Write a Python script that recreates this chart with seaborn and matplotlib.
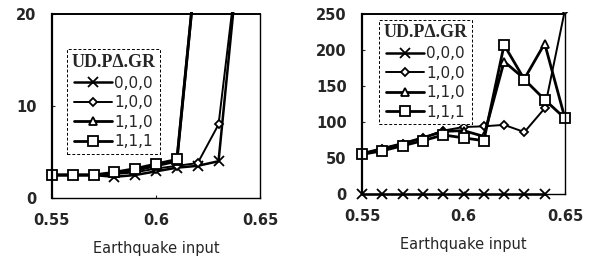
import numpy as np
import pandas as pd
import matplotlib
matplotlib.use("Agg")
import matplotlib.pyplot as plt
from matplotlib.patches import Rectangle
import seaborn as sns

# earthquake input levels
x_vals = [0.55, 0.56, 0.57, 0.58, 0.59, 0.60, 0.61, 0.62, 0.63, 0.64, 0.65]
series_names = ["0,0,0", "1,0,0", "1,1,0", "1,1,1"]

# left panel (values beyond 20 run off the top)
left_000 = [2.5, 2.5, 2.5, 2.3, 2.5, 2.9, 3.3, 3.5, 4.0, 27.0, np.nan]
left_100 = [2.5, 2.5, 2.5, 2.6, 2.8, 3.2, 3.5, 3.8, 8.0, 27.0, np.nan]
left_110 = [2.5, 2.5, 2.5, 2.7, 3.0, 3.5, 4.0, 27.0, np.nan, np.nan, np.nan]
left_111 = [2.5, 2.5, 2.5, 2.8, 3.2, 3.7, 4.2, 27.0, np.nan, np.nan, np.nan]

# right panel
right_000 = [0, 0, 0, 0, 0, 0, 0, 0, 0, 0, np.nan]
right_100 = [56, 63, 70, 78, 88, 93, 94, 96, 86, 119, 256]
right_110 = [56, 63, 70, 78, 87, 88, 80, 184, 160, 209, 105]
right_111 = [55, 60, 67, 74, 82, 78, 74, 207, 159, 131, 105]

markers = {"0,0,0": "x", "1,0,0": "D", "1,1,0": "^", "1,1,1": "s"}
msizes = {"0,0,0": 7, "1,0,0": 4.5, "1,1,0": 6, "1,1,1": 7.5}
lwidths = {"0,0,0": 1.8, "1,0,0": 1.4, "1,1,0": 2.0, "1,1,1": 2.0}


def to_long(cols):
    recs = []
    for name, vals in zip(series_names, cols):
        for x, v in zip(x_vals, vals):
            recs.append({"Earthquake input": x, "value": v, "series": name})
    return pd.DataFrame(recs)


sns.set_style("ticks")
plt.rcParams["font.family"] = ["DejaVu Sans"]

fig = plt.figure(figsize=(5.9, 2.59), dpi=100)
ax1 = fig.add_axes([0.088, 0.2355, 0.353, 0.71])
ax2 = fig.add_axes([0.6136, 0.251, 0.344, 0.695])

panels = [
    (ax1, to_long([left_000, left_100, left_110, left_111]), (0, 20), [0, 10, 20], (0.035, 0.85)),
    (ax2, to_long([right_000, right_100, right_110, right_111]), (0, 250), [0, 50, 100, 150, 200, 250], (0.045, 1.01)),
]

for ax, df, ylim, yticks, leg_pos in panels:
    for name in series_names:
        sub = df[df["series"] == name].dropna()
        sns.lineplot(data=sub, x="Earthquake input", y="value", marker=markers[name],
                     markersize=msizes[name], color="black", linewidth=lwidths[name],
                     markerfacecolor="white", markeredgecolor="black",
                     markeredgewidth=1.3, errorbar=None, label=name, ax=ax)
    for line in ax.get_lines():
        line.set_clip_path(Rectangle((-0.06, -0.08), 1.12, 1.09, transform=ax.transAxes))

    ax.set_xlim(0.55, 0.65)
    ax.set_ylim(*ylim)
    ax.set_xticks([0.55, 0.6, 0.65])
    ax.set_xticklabels(["0.55", "0.6", "0.65"])
    ax.set_yticks(yticks)
    ax.set_ylabel("")
    ax.set_xlabel("Earthquake input", fontsize=10.5, labelpad=9)
    ax.tick_params(direction="in", length=2, width=0.8, pad=11, labelsize=10.5)
    for t in ax.get_xticklabels() + ax.get_yticklabels():
        t.set_fontweight("bold")
    for sp in ax.spines.values():
        sp.set_visible(True)
        sp.set_color("black")
        sp.set_linewidth(1.0)
    ax.spines["left"].set_linewidth(1.6)
    ax.spines["top"].set_linewidth(1.4)

    handles, labels = ax.get_legend_handles_labels()
    leg = ax.legend(handles[:4], labels[:4], title="UD.PΔ.GR", loc="upper left",
                    bbox_to_anchor=leg_pos, fontsize=11, handlelength=2.5,
                    handletextpad=0.1, labelspacing=0.3, borderpad=0.3,
                    frameon=True, fancybox=False, framealpha=1)
    leg.get_title().set_fontweight("bold")
    leg.get_title().set_family(["Liberation Serif", "DejaVu Serif"])
    leg.get_title().set_fontsize(13)
    frame = leg.get_frame()
    frame.set_edgecolor("black")
    frame.set_linewidth(0.7)
    frame.set_linestyle((0, (3, 2)))

fig.savefig("out.png", dpi=100)
plt.close(fig)
